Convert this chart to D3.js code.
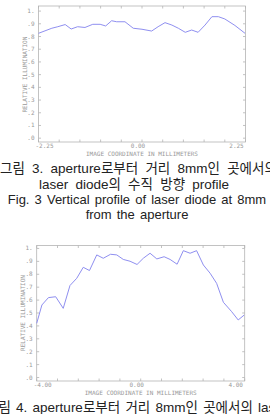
<!DOCTYPE html>
<html lang="ko">
<head>
<meta charset="utf-8">
<style>
  html, body { margin: 0; padding: 0; background: #fff; }
  svg { display: block; }
  .cap { font-family: "Liberation Sans", Arial, "Noto Sans CJK KR", sans-serif; font-size: 13px; fill: #222; word-spacing: 1.5px; }
  .cap.ko { font-size: 13.5px; word-spacing: 3.5px; }
  .cap.ko.tight { word-spacing: 1.5px; }
  .tk { font-family: "DejaVu Sans Mono", monospace; font-size: 6px; fill: #999; }
</style>
</head>
<body>
<svg id="chart" width="270" height="414"></svg>
<script src="https://cdn.jsdelivr.net/npm/d3@7"></script>
<script>
// Fig. 3 - vertical profile (x in mm, relative illumination)
const vertX = [-2.25, -1.96, -1.83, -1.67, -1.54, -1.40, -1.24, -1.07, -0.91, -0.79, -0.66, -0.55, -0.37, -0.19, 0.00,
  0.21, 0.35, 0.50, 0.65, 0.79, 0.94, 1.08, 1.22, 1.37, 1.52, 1.66, 1.80, 2.02, 2.24]
const vertY = [0.825, 0.865, 0.877, 0.894, 0.859, 0.877, 0.871, 0.896, 0.896, 0.883, 0.924, 0.916, 0.916, 0.865, 0.857,
  0.843, 0.877, 0.909, 0.890, 0.865, 0.833, 0.851, 0.833, 0.890, 0.956, 0.956, 0.938, 0.887, 0.825]

// Fig. 4 - horizontal profile
const horzX = [-4.00, -3.80, -3.55, -3.27, -2.98, -2.72, -2.46, -2.21, -1.97, -1.69, -1.44, -1.16, -0.92, -0.67, -0.41, -0.14,
  0.10, 0.36, 0.62, 0.90, 1.13, 1.40, 1.64, 1.90, 2.15, 2.41, 2.67, 2.92, 3.18, 3.50, 3.75, 3.98]
const horzY = [0.420, 0.562, 0.619, 0.626, 0.536, 0.713, 0.769, 0.854, 0.829, 0.950, 0.924, 0.955, 0.950, 0.915, 0.901, 0.876,
  0.924, 0.963, 0.919, 0.936, 0.915, 0.878, 0.983, 0.963, 0.983, 0.872, 0.808, 0.730, 0.583, 0.510, 0.446, 0.484]

const yTickVals = [0, 0.1, 0.2, 0.3, 0.4, 0.5, 0.6, 0.7, 0.8, 0.9, 1]
const yTickLabels = [".0", ".1", ".2", ".3", ".4", ".5", ".6", ".7", ".8", ".9", "1."]
const vertXLabels = ["-2.25", "0.00", "2.25"]
const horzXLabels = ["-4.00", "0.00", "4.00"]

const yTitle = "RELATIVE ILLUMINATION"
const xTitle = "IMAGE COORDINATE IN MILLIMETERS"

const svg = d3.select("#chart")
svg.append("rect").attr("width", 270).attr("height", 414).attr("fill", "#fff")

function panel (o) {
  const x = d3.scaleLinear().domain(o.xDomain).range([o.left, o.right])
  const y = d3.scaleLinear().domain(o.yDomain).range([o.bottom, o.top])
  const g = svg.append("g")
  const step = (o.xDomain[1] - o.xDomain[0]) / 10
  const xTickVals = d3.range(11).map(i => o.xDomain[0] + i * step)

  g.append("rect")
    .attr("x", o.left).attr("y", o.top)
    .attr("width", o.right - o.left).attr("height", o.bottom - o.top)
    .attr("fill", "none").attr("stroke", "#b4b4b4").attr("stroke-width", 0.8)

  // inward ticks
  const tl = 2.5
  xTickVals.forEach(v => {
    g.append("line").attr("x1", x(v)).attr("x2", x(v)).attr("y1", o.top).attr("y2", o.top + tl)
      .attr("stroke", "#b4b4b4").attr("stroke-width", 0.8)
    g.append("line").attr("x1", x(v)).attr("x2", x(v)).attr("y1", o.bottom).attr("y2", o.bottom - tl)
      .attr("stroke", "#b4b4b4").attr("stroke-width", 0.8)
  })
  yTickVals.forEach((v, i) => {
    g.append("line").attr("x1", o.left).attr("x2", o.left + tl).attr("y1", y(v)).attr("y2", y(v))
      .attr("stroke", "#b4b4b4").attr("stroke-width", 0.8)
    g.append("line").attr("x1", o.right).attr("x2", o.right - tl).attr("y1", y(v)).attr("y2", y(v))
      .attr("stroke", "#b4b4b4").attr("stroke-width", 0.8)
    g.append("text").attr("class", "tk")
      .attr("x", o.left - 4).attr("y", y(v) + 2)
      .attr("text-anchor", "end")
      .text(yTickLabels[i])
  })

  // x labels only at ends and centre
  const labVals = [o.xDomain[0], 0, o.xDomain[1]]
  const labDx = [6, -4, -9]
  labVals.forEach((v, i) => {
    g.append("text").attr("class", "tk")
      .attr("x", x(v) + labDx[i]).attr("y", o.bottom + 6)
      .attr("text-anchor", "middle")
      .text(o.xLabels[i])
  })

  g.append("text").attr("class", "tk")
    .attr("x", (o.left + o.right) / 2).attr("y", o.bottom + 14)
    .attr("text-anchor", "middle")
    .text(xTitle)

  g.append("text").attr("class", "tk")
    .attr("transform", `translate(${o.left - 12}, ${y(0.5)}) rotate(-90)`)
    .attr("text-anchor", "middle")
    .text(yTitle)

  const line = d3.line().x(d => x(d[0])).y(d => y(d[1]))
  g.append("path")
    .datum(d3.zip(o.xs, o.ys))
    .attr("d", line)
    .attr("fill", "none")
    .attr("stroke", "#8f8ff0")
    .attr("stroke-width", 1)
}

panel({ xDomain: [-2.25, 2.25], yDomain: [-0.03, 1.04], left: 38.5, right: 245.5, top: 6, bottom: 142,
  xs: vertX, ys: vertY, xLabels: vertXLabels })
panel({ xDomain: [-4, 4], yDomain: [-0.027, 1.023], left: 36.7, right: 244.7, top: 245.5, bottom: 381,
  xs: horzX, ys: horzY, xLabels: horzXLabels })

// captions (the first lines run past the page edges, as in the source scan)
const captions = [
  { t: "그림 3. aperture로부터 거리 8mm인 곳에서의", x: 0, y: 173, a: "start", cls: "cap ko" },
  { t: "laser diode의 수직 방향 profile", x: 134, y: 189, a: "middle", cls: "cap ko" },
  { t: "Fig. 3 Vertical profile of laser diode at 8mm", x: 137, y: 204, a: "middle", cls: "cap" },
  { t: "from the aperture", x: 137, y: 219, a: "middle", cls: "cap" },
  { t: "그림 4. aperture로부터 거리 8mm인 곳에서의 laser", x: -14, y: 412, a: "start", cls: "cap ko tight" }
]
svg.selectAll("text.cap").data(captions).join("text")
  .attr("class", d => d.cls)
  .attr("x", d => d.x).attr("y", d => d.y)
  .attr("text-anchor", d => d.a)
  .text(d => d.t)
</script>
</body>
</html>
